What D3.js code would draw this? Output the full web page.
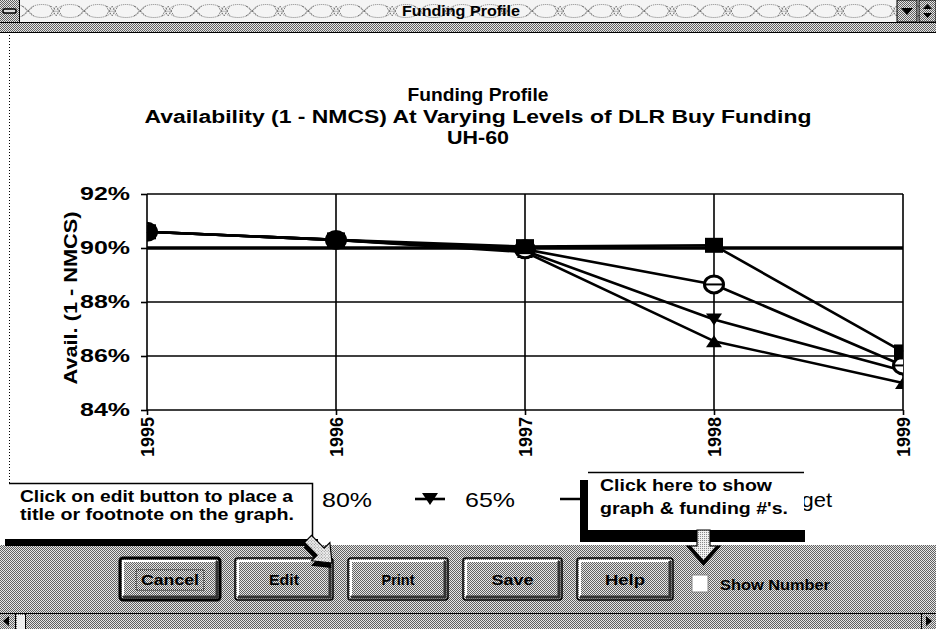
<!DOCTYPE html>
<html><head><meta charset="utf-8">
<script src="https://cdn.jsdelivr.net/npm/d3@7"></script>
<style>html,body{margin:0;padding:0;background:#fff;overflow:hidden}</style>
</head><body><svg id="c" width="936" height="629"></svg>
<script>
// ---- data ----
const years = [1995, 1996, 1997, 1998, 1999];
const funding100 = [90.6, 90.3, 90.05, 90.1, 86.15];
const funding80  = [90.6, 90.3, 89.95, 88.65, 85.65];
const funding65  = [90.6, 90.3, 89.9, 87.35, 85.45];
const funding50  = [90.6, 90.3, 89.85, 86.55, 85.0];
const targetLine = [90, 90, 90, 90, 90];
const seriesNames = ["100%", "80%", "65%", "50%", "Target"];
const yTicks = [84, 86, 88, 90, 92];
const titleLines = ["Funding Profile", "Availability (1 - NMCS) At Varying Levels of DLR Buy Funding", "UH-60"];
const yAxisTitle = "Avail. (1 - NMCS)";
const windowTitle = "Funding Profile";
const buttonLabels = ["Cancel", "Edit", "Print", "Save", "Help"];
const checkboxLabel = "Show Number";
const calloutLeft = ["Click on edit button to place a", "title or footnote on the graph."];
const calloutRight = ["Click here to show", "graph & funding #'s."];

const FONT = "'Liberation Sans', Arial, sans-serif";
const svg = d3.select('#c');
const defs = svg.append('defs');

const dp = defs.append('pattern').attr('id','dither').attr('width',2).attr('height',2).attr('patternUnits','userSpaceOnUse');
dp.append('rect').attr('width',2).attr('height',2).attr('fill','#e6e6e6');
dp.append('rect').attr('x',0).attr('y',0).attr('width',1).attr('height',1).attr('fill','#606060');
dp.append('rect').attr('x',1).attr('y',1).attr('width',1).attr('height',1).attr('fill','#606060');
const dl = defs.append('pattern').attr('id','ditherL').attr('width',2).attr('height',2).attr('patternUnits','userSpaceOnUse');
dl.append('rect').attr('width',2).attr('height',2).attr('fill','#f0f0f0');
dl.append('rect').attr('x',0).attr('y',0).attr('width',1).attr('height',1).attr('fill','#8a8a8a');
const tp = defs.append('pattern').attr('id','tbar').attr('width',56).attr('height',22).attr('patternUnits','userSpaceOnUse').attr('x',0).attr('y',0);
tp.append('rect').attr('width',56).attr('height',22).attr('fill','#f4f4f4');
[[14,11],[42,11]].forEach(([cx,cy]) => {
  tp.append('ellipse').attr('cx',cx).attr('cy',cy).attr('rx',13).attr('ry',6.5).attr('fill','none').attr('stroke','#777').attr('stroke-dasharray','1 1');
});
tp.append('path').attr('d','M22,6 L34,16 M22,16 L34,6 M0,6 L6,16 M0,16 L6,6 M50,6 L56,16 M50,16 L56,6').attr('stroke','#555').attr('stroke-dasharray','1 1');

// ---- window chrome: title bar ----
const TB_H = 22, BAND_B = 32;
svg.append('rect').attr('x',0).attr('y',0).attr('width',936).attr('height',TB_H).attr('fill','url(#tbar)');
svg.append('rect').attr('x',0).attr('y',TB_H).attr('width',936).attr('height',BAND_B-TB_H).attr('fill','url(#dither)');
svg.append('line').attr('x1',0).attr('x2',936).attr('y1',TB_H+0.5).attr('y2',TB_H+0.5).attr('stroke','#000');
svg.append('line').attr('x1',0).attr('x2',936).attr('y1',BAND_B+0.5).attr('y2',BAND_B+0.5).attr('stroke','#000');
svg.append('rect').attr('x',0).attr('y',0).attr('width',19).attr('height',TB_H).attr('fill','url(#dither)');
svg.append('line').attr('x1',19.5).attr('x2',19.5).attr('y1',0).attr('y2',TB_H).attr('stroke','#000');
svg.append('rect').attr('x',3).attr('y',9).attr('width',13).attr('height',4).attr('rx',1.5).attr('fill','#ddd').attr('stroke','#000').attr('stroke-width',1.5);
svg.append('text').attr('x',461).attr('y',16).attr('text-anchor','middle')
  .attr('font-family',FONT).attr('font-weight','bold').attr('font-size',14)
  .attr('textLength',118).attr('lengthAdjust','spacingAndGlyphs').text(windowTitle);
svg.append('rect').attr('x',897).attr('y',0).attr('width',20).attr('height',TB_H).attr('fill','url(#dither)').attr('stroke','#000');
svg.append('path').attr('d','M901,8 L913,8 L907,15 Z').attr('fill','#000');
svg.append('rect').attr('x',919).attr('y',0).attr('width',17).attr('height',TB_H).attr('fill','url(#dither)').attr('stroke','#000');
svg.append('path').attr('d','M923,9 L932,9 L927.5,4 Z M923,13 L932,13 L927.5,18 Z').attr('fill','#000');

svg.append('line').attr('x1',9.5).attr('x2',9.5).attr('y1',BAND_B+3).attr('y2',483).attr('stroke','#000').attr('stroke-dasharray','1 2');

// ---- chart ----
const x = d3.scalePoint().domain(years).range([147, 903]);
const y = d3.scaleLinear().domain([84, 92]).range([410, 194]);

const g = svg.append('g');
const titleY = [101, 123, 144];
const titleW = [141, 667, 62];
titleLines.forEach((t, i) => {
  g.append('text').attr('x', 478).attr('y', titleY[i]).attr('text-anchor','middle')
    .attr('font-family',FONT).attr('font-weight','bold').attr('font-size',18)
    .attr('textLength',titleW[i]).attr('lengthAdjust','spacingAndGlyphs').text(t);
});

g.append('g').selectAll('line').data(yTicks).join('line')
  .attr('x1', x(years[0])).attr('x2', x(years[years.length-1]))
  .attr('y1', d => y(d)).attr('y2', d => y(d))
  .attr('stroke','#000').attr('stroke-width',1.6);
g.append('g').selectAll('line').data(years).join('line')
  .attr('x1', d => x(d)).attr('x2', d => x(d))
  .attr('y1', y(92)).attr('y2', y(84))
  .attr('stroke','#000').attr('stroke-width',1.6);

const gy = g.append('g').attr('transform',`translate(${x(years[0])},0)`)
  .call(d3.axisLeft(y).tickValues(yTicks).tickFormat(d => d + '%').tickSize(6).tickPadding(11));
gy.select('.domain').remove();
gy.selectAll('line').attr('stroke-width',1.6);
gy.selectAll('text').attr('font-family',FONT).attr('font-weight','bold').attr('font-size',18)
  .attr('textLength',50).attr('lengthAdjust','spacingAndGlyphs').attr('fill','#000');

const gx = g.append('g').attr('transform',`translate(0,${y(84)})`)
  .call(d3.axisBottom(x).tickSize(5).tickFormat(d3.format('d')));
gx.select('.domain').remove();
gx.selectAll('line').attr('stroke-width',1.6);
gx.selectAll('text').attr('transform','rotate(-90)').attr('text-anchor','end')
  .attr('x',-7).attr('y',0).attr('dy','0.36em')
  .attr('font-family',FONT).attr('font-weight','bold').attr('font-size',19)
  .attr('textLength',40).attr('lengthAdjust','spacingAndGlyphs').attr('fill','#000');

g.append('text').attr('transform','translate(77,298) rotate(-90)').attr('text-anchor','middle')
  .attr('font-family',FONT).attr('font-weight','bold').attr('font-size',18)
  .attr('textLength',173).attr('lengthAdjust','spacingAndGlyphs').text(yAxisTitle);

const series = [
  {name: seriesNames[0], values: funding100, marker: 'square'},
  {name: seriesNames[1], values: funding80, marker: 'circle'},
  {name: seriesNames[2], values: funding65, marker: 'down'},
  {name: seriesNames[3], values: funding50, marker: 'up'},
];
const line = d3.line().x((d,i) => x(years[i])).y(d => y(d));
g.append('path').attr('d', line(targetLine)).attr('fill','none').attr('stroke','#000').attr('stroke-width',3.5);
series.slice().reverse().forEach(s => {
  g.append('path').attr('d', line(s.values)).attr('fill','none').attr('stroke','#000').attr('stroke-width',2.6).attr('stroke-linejoin','round');
});

defs.append('clipPath').attr('id','plotclip').append('rect')
  .attr('x', x(years[0])).attr('y', 150).attr('width', x(years[years.length-1]) - x(years[0])).attr('height', 300);

function drawMarker(sel, type, cx, cy) {
  if (type === 'square') {
    sel.append('rect').attr('x',cx-9).attr('y',cy-7.5).attr('width',18).attr('height',15).attr('fill','#000');
  } else if (type === 'circle') {
    sel.append('ellipse').attr('cx',cx).attr('cy',cy).attr('rx',9.5).attr('ry',8.5).attr('fill','#fff').attr('stroke','#000').attr('stroke-width',3);
    sel.append('line').attr('x1',cx-9).attr('x2',cx+9).attr('y1',cy).attr('y2',cy).attr('stroke','#000').attr('stroke-width',2);
  } else if (type === 'down') {
    sel.append('path').attr('d',`M${cx-8},${cy-6} L${cx+8},${cy-6} L${cx},${cy+6} Z`).attr('fill','#000');
  } else if (type === 'up') {
    sel.append('path').attr('d',`M${cx-8},${cy+6} L${cx+8},${cy+6} L${cx},${cy-6} Z`).attr('fill','#000');
  }
}
const mg = g.append('g').attr('clip-path','url(#plotclip)');
series.slice().reverse().forEach(s => {
  s.values.forEach((v, i) => drawMarker(mg, s.marker, x(years[i]), y(v)));
});

// legend (partly hidden under the help callouts, as in the screenshot)
const legX = [144, 287, 430, 595, 740];
const legHalf = [15, 15, 15, 35, 15];
const legY = 499;
const legTypes = ['square','circle','down','up', null];
const legTextX = [179, 322, 465, 630, 771];
const legTextW = [62, 50, 50, 50, 61];
const legVisibleText = [false, true, true, false, true];
defs.append('clipPath').attr('id','legclip').append('rect').attr('x',804).attr('y',470).attr('width',120).attr('height',60);
const leg = g.append('g');
seriesNames.forEach((n, i) => {
  leg.append('line').attr('x1',legX[i]-legHalf[i]).attr('x2',legX[i]+legHalf[i]).attr('y1',legY).attr('y2',legY)
    .attr('stroke','#000').attr('stroke-width', i === 4 ? 3.5 : 2.6);
  if (legTypes[i]) drawMarker(leg, legTypes[i], legX[i], legY);
  if (legVisibleText[i]) {
    const t = leg.append('text').attr('x', legTextX[i]).attr('y', 507)
      .attr('font-family',FONT).attr('font-size',21)
      .attr('textLength', legTextW[i]).attr('lengthAdjust','spacingAndGlyphs').text(n);
    if (i === 4) t.attr('clip-path','url(#legclip)');
  }
});

// ---- callouts ----
svg.append('rect').attr('x',10).attr('y',483).attr('width',302).attr('height',57).attr('fill','#fff');
svg.append('path').attr('d','M9,483.5 L312.5,483.5 L312.5,540').attr('fill','none').attr('stroke','#000').attr('stroke-width',1.5);
calloutLeft.forEach((t, i) => {
  svg.append('text').attr('x',20).attr('y',[502,520][i]).attr('font-family',FONT).attr('font-weight','bold').attr('font-size',17)
    .attr('textLength',[273,274][i]).attr('lengthAdjust','spacingAndGlyphs').text(t);
});
svg.append('rect').attr('x',588).attr('y',472).attr('width',216).attr('height',58).attr('fill','#fff');
svg.append('line').attr('x1',588).attr('x2',804).attr('y1',472.5).attr('y2',472.5).attr('stroke','#000').attr('stroke-width',1.5);
svg.append('rect').attr('x',580).attr('y',480).attr('width',8).attr('height',62).attr('fill','#000');
svg.append('rect').attr('x',580).attr('y',530).attr('width',225).attr('height',12).attr('fill','#000');
calloutRight.forEach((t, i) => {
  svg.append('text').attr('x',600).attr('y',[491,514][i]).attr('font-family',FONT).attr('font-weight','bold').attr('font-size',17)
    .attr('textLength',[172,188][i]).attr('lengthAdjust','spacingAndGlyphs').text(t);
});

// ---- bottom panel ----
svg.append('rect').attr('x',0).attr('y',545).attr('width',936).attr('height',84).attr('fill','url(#dither)');
svg.append('rect').attr('x',5).attr('y',539).attr('width',313).attr('height',7).attr('fill','#000');

const btnX = [120, 235, 348, 463, 577];
const btnW = [100, 98, 100, 99, 96];
const btnTextW = [58, 30, 33, 42, 40];
buttonLabels.forEach((b, i) => {
  const bx = btnX[i], by = 558, bw = btnW[i], bh = 42;
  const bg = svg.append('g');
  bg.append('rect').attr('x',bx).attr('y',by).attr('width',bw).attr('height',bh).attr('rx',3)
    .attr('fill','url(#dither)').attr('stroke','#000').attr('stroke-width', i === 0 ? 3 : 1.5);
  bg.append('path').attr('d',`M${bx+3},${by+bh-4} L${bx+3},${by+3} L${bx+bw-4},${by+3}`).attr('fill','none').attr('stroke','#fff').attr('stroke-width',2);
  bg.append('path').attr('d',`M${bx+3},${by+bh-3} L${bx+bw-3},${by+bh-3} L${bx+bw-3},${by+3}`).attr('fill','none').attr('stroke','#333').attr('stroke-width',3);
  bg.append('text').attr('x',bx+bw/2).attr('y',585).attr('text-anchor','middle')
    .attr('font-family',FONT).attr('font-weight','bold').attr('font-size',14)
    .attr('textLength',btnTextW[i]).attr('lengthAdjust','spacingAndGlyphs').text(b);
  if (i === 0) bg.append('rect').attr('x',bx+16).attr('y',570).attr('width',bw-32).attr('height',20)
    .attr('fill','none').attr('stroke','#000').attr('stroke-dasharray','1 1');
});
svg.append('rect').attr('x',692).attr('y',575).attr('width',16).attr('height',17).attr('fill','#fff').attr('stroke','#888');
svg.append('text').attr('x',720).attr('y',590).attr('font-family',FONT).attr('font-weight','bold').attr('font-size',14)
  .attr('textLength',110).attr('lengthAdjust','spacingAndGlyphs').text(checkboxLabel);

const la = svg.append('g').attr('transform','translate(332,563) rotate(-45)');
la.append('path').attr('d','M0,0 L-13,-16 L-5,-16 L-5,-34 L5,-34 L5,-16 L13,-16 Z').attr('transform','translate(-4,3)').attr('fill','#000');
la.append('path').attr('d','M0,0 L-13,-16 L-5,-16 L-5,-34 L5,-34 L5,-16 L13,-16 Z').attr('fill','url(#ditherL)').attr('stroke','#000').attr('stroke-width',1.2);
svg.append('path').attr('d','M697,530 L710,530 L710,546 L720,546 L703.5,565 L687,546 L697,546 Z')
  .attr('fill','url(#ditherL)').attr('stroke','#000').attr('stroke-width',1.2);
svg.append('path').attr('d','M687,546 L703.5,565 L720,546 L716,546 L703.5,560 L691,546 Z').attr('fill','#000');

svg.append('line').attr('x1',0).attr('x2',936).attr('y1',613.5).attr('y2',613.5).attr('stroke','#000');
svg.append('rect').attr('x',0).attr('y',614).attr('width',15).attr('height',15).attr('fill','url(#dither)');
svg.append('path').attr('d','M3,621 L9,616 L9,626 Z').attr('fill','#000');
svg.append('line').attr('x1',15.5).attr('x2',15.5).attr('y1',614).attr('y2',629).attr('stroke','#000');
svg.append('rect').attr('x',17).attr('y',615).attr('width',8).attr('height',14).attr('fill','#eee');
svg.append('line').attr('x1',25.5).attr('x2',25.5).attr('y1',614).attr('y2',629).attr('stroke','#000');
svg.append('line').attr('x1',921.5).attr('x2',921.5).attr('y1',614).attr('y2',629).attr('stroke','#000');
svg.append('path').attr('d','M932,621 L926,616 L926,626 Z').attr('fill','#000');
</script></body></html>
